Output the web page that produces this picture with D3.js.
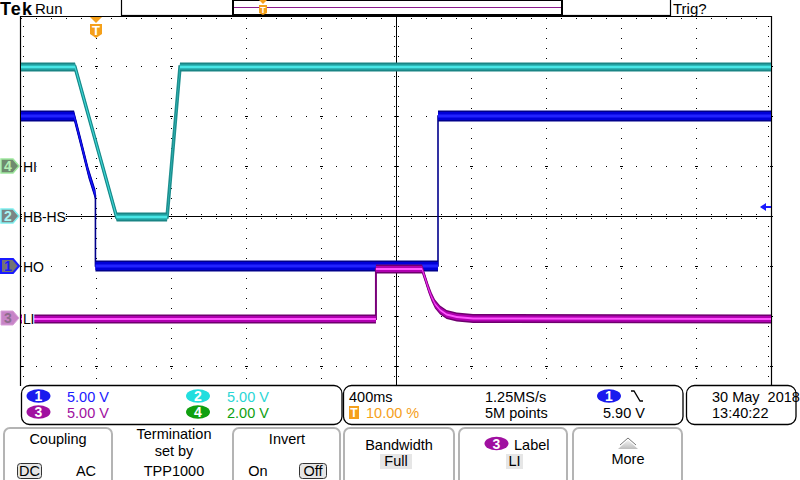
<!DOCTYPE html>
<html><head><meta charset="utf-8">
<script src="https://cdn.jsdelivr.net/npm/d3@7"></script>
<style>
body{margin:0;background:#fff}
svg{display:block}
text{font-family:"Liberation Sans",Arial,sans-serif}
</style>
</head><body>
<svg id="c" width="800" height="480"></svg>
<script>
// ---------------- DATA ----------------
// time axis: 400 ms/div, 10 divisions, trigger at 10 %
const timeDivs = [-0.4, 0.0, 0.4, 0.8, 1.2, 1.6, 2.0, 2.4, 2.8, 3.2, 3.6]; // seconds
const voltDivs = [4, 3, 2, 1, 0, -1, -2, -3, -4]; // vertical divisions

// Channel 2 (HB-HS), volts
const ch2Time = [-0.4, -0.112, 0.110, 0.379, 0.448, 3.6];
const ch2Volt = [14.9, 14.9, -0.1, -0.1, 14.9, 14.9];
// Channel 1 (HO), volts
const ch1Time = [-0.4, -0.117, -0.08, -0.04, -0.003, -0.003, 1.824, 1.824, 3.6];
const ch1Volt = [15.0, 15.0, 12.3, 9.3, 7.1, 0.0, 0.0, 15.0, 15.0];
// Channel 3 (LI), volts
const ch3Time = [-0.4, 1.493, 1.493, 1.739, 1.755, 1.772, 1.790, 1.808, 1.835, 1.870, 1.924, 2.011, 3.6];
const ch3Volt = [-0.1, -0.1, 4.9, 4.9, 4.0, 3.0, 2.1, 1.4, 0.8, 0.35, 0.1, -0.05, -0.1];

// channel setup
const chNames   = ["1", "2", "3", "4"];
const chLabels  = ["HO", "HB-HS", "LI", "HI"];
const chOffset  = [-1, 0, -2.04, 1];          // ground position in divisions
const chVdiv    = [5, 5, 5, 2];               // volts / division
const chScaleTx = ["5.00 V", "5.00 V", "5.00 V", "2.00 V"];

// readouts
const horizTexts = ["400ms", "1.25MS/s", "10.00 %", "5M points"];
const trigLevel = 5.90;
const trigText = "5.90 V";
const dateTexts = ["30 May  2018", "13:40:22"];

// ---------------- SCALES ----------------
const svg = d3.select("#c");
const X0 = 21, X1 = 771, Y0 = 16, Y1 = 416, YCUT = 386;
const x = d3.scaleLinear().domain([timeDivs[0], timeDivs[timeDivs.length-1]]).range([X0, X1]);
const yDiv = d3.scaleLinear().domain([4, -4]).range([Y0, Y1]);
const yCh = (ch, v) => yDiv(chOffset[ch] + v / chVdiv[ch]);

const ORANGE = "#f5a01a";
svg.append("rect").attr("width", 800).attr("height", 480).attr("fill", "#fff");

// ---------------- GRATICULE ----------------
const g = svg.append("g");
const cx = x(timeDivs[5]), cy = yDiv(0);
timeDivs.slice(1, -1).forEach((t, i) => {
  if (i + 1 === 5) return;
  g.append("line").attr("x1", x(t) + 0.5).attr("x2", x(t) + 0.5)
   .attr("y1", Y0 + 2).attr("y2", YCUT)
   .attr("stroke", "#000").attr("stroke-width", 1).attr("stroke-dasharray", "1 9");
});
voltDivs.slice(1, -1).forEach(v => {
  if (v === 0) return;
  const yy = yDiv(v);
  if (yy > YCUT) return;
  g.append("line").attr("x1", X0 + 15).attr("x2", X1).attr("y1", yy + 0.5).attr("y2", yy + 0.5)
   .attr("stroke", "#000").attr("stroke-width", 1).attr("stroke-dasharray", "1 14");
});
timeDivs.forEach(t => voltDivs.forEach(v => {
  const px = x(t), py = yDiv(v);
  if (py > YCUT - 2 || py < Y0 + 2) return;
  g.append("rect").attr("x", px - 1).attr("y", py).attr("width", 3).attr("height", 1).attr("fill", "#000");
}));
g.append("line").attr("x1", X0).attr("x2", X1).attr("y1", cy + 0.5).attr("y2", cy + 0.5).attr("stroke", "#000");
g.append("line").attr("x1", cx + 0.5).attr("x2", cx + 0.5).attr("y1", Y0).attr("y2", YCUT).attr("stroke", "#000");
d3.range(X0, X1, 15).forEach(px => {
  g.append("line").attr("x1", px + 0.5).attr("x2", px + 0.5).attr("y1", cy - 2).attr("y2", cy + 4)
   .attr("stroke", "#000").attr("stroke-dasharray", "1 1");
});
d3.range(Y0, YCUT, 10).forEach(py => {
  g.append("line").attr("x1", cx - 2).attr("x2", cx + 4).attr("y1", py + 0.5).attr("y2", py + 0.5)
   .attr("stroke", "#000").attr("stroke-dasharray", "1 1");
});
d3.range(X0, X1, 15).forEach(px => {
  g.append("rect").attr("x", px).attr("y", Y0 + 2).attr("width", 1).attr("height", 1).attr("fill", "#000");
});
d3.range(Y0 + 10, YCUT, 10).forEach(py => {
  g.append("rect").attr("x", X0 + 2).attr("y", py).attr("width", 1).attr("height", 1).attr("fill", "#000");
  g.append("rect").attr("x", X1 - 3).attr("y", py).attr("width", 1).attr("height", 1).attr("fill", "#000");
});
g.append("path").attr("d", `M${X0 - 0.5},${YCUT} V${Y0 + 0.5} H${X1 + 0.5} V${YCUT}`)
 .attr("fill", "none").attr("stroke", "#000").attr("stroke-width", 1.2);

// ---------------- TRACES ----------------
svg.append("clipPath").attr("id", "plotclip").append("rect")
  .attr("x", X0).attr("y", Y0 + 1).attr("width", X1 - X0).attr("height", YCUT - Y0 - 1);
const tg = svg.append("g").attr("clip-path", "url(#plotclip)");

function drawTrace(T, V, ch, layers, lineW, lineCol) {
  const pts = T.map((t, i) => [x(t), yCh(ch, V[i])]);
  const grp = tg.append("g");
  grp.append("path").datum(pts)
    .attr("d", d3.line().x(d => d[0]).y(d => d[1]))
    .attr("fill", "none").attr("stroke", lineCol).attr("stroke-width", lineW);
  layers.forEach(L => {
    grp.append("path").datum(pts)
      .attr("d", d3.area().x(d => d[0]).y0(d => d[1] - L.h).y1(d => d[1] + L.h))
      .attr("fill", L.c);
  });
}
drawTrace(ch2Time, ch2Volt, 1,
  [{h: 4.5, c: "#1a8585"}, {h: 2.8, c: "#24a8a8"}, {h: 1.3, c: "#48e6e6"}], 3.5, "#1f9090");
drawTrace(ch1Time, ch1Volt, 0,
  [{h: 5.5, c: "#00008c"}, {h: 4, c: "#0000d8"}, {h: 1.5, c: "#2222ff"}], 1.6, "#00008c");
drawTrace(ch3Time, ch3Volt, 2,
  [{h: 4.5, c: "#6e006e"}, {h: 3, c: "#b000b0"}, {h: 1, c: "#ff55ff"}], 2, "#7a007a");

// trigger level arrow (right side)
const ty = yCh(0, trigLevel);
svg.append("path").attr("d", `M760,${ty} L766,${ty - 4} L766,${ty + 4} Z`).attr("fill", "#1a1aff");
svg.append("rect").attr("x", 765).attr("y", ty - 1).attr("width", 6).attr("height", 2).attr("fill", "#1a1aff");

// ---------------- CHANNEL MARKERS & LABELS ----------------
const markerStyle = [
  {fill: "#737373", stroke: "#1a1aff", txt: "#1a1aff", sw: 2},
  {fill: "#7b8585", stroke: "#7ff0f0", txt: "#a8f4f4", sw: 1.5},
  {fill: "#c784c7", stroke: "#d9a0d9", txt: "#8c6c8c", sw: 1},
  {fill: "#6f8a6f", stroke: "#9ee89e", txt: "#b4f0b4", sw: 1.5}
];
const markerY = [0, 1, 2, 3].map(ch => yCh(ch, 0));
markerY[2] = 318;
[3, 1, 0, 2].forEach(ch => {
  const my = markerY[ch], s = markerStyle[ch];
  svg.append("path").attr("d", `M1,${my - 7} H13 L19,${my} L13,${my + 7} H1 Z`)
    .attr("fill", s.fill).attr("stroke", s.stroke).attr("stroke-width", s.sw);
  svg.append("text").attr("x", 8).attr("y", my + 5).attr("text-anchor", "middle")
    .attr("font-size", 14).attr("font-weight", "bold").attr("fill", s.txt).text(chNames[ch]);
  const lt = svg.append("text").attr("x", 23).attr("y", my + 5.5).attr("font-size", 14)
    .attr("letter-spacing", -0.2).attr("fill", "#000").text(chLabels[ch]);
  const bb = lt.node().getBBox();
  svg.insert("rect", "text:last-child").attr("x", 22).attr("y", my - 6).attr("width", bb.width + 1).attr("height", 13).attr("fill", "#fff");
  lt.raise();
});

// trigger position marker
const tx = x(0);
const tm = svg.append("g");
tm.append("path").attr("d", `M${tx - 6},17 H${tx + 6} L${tx},23 Z`).attr("fill", ORANGE);
tm.append("path").attr("d", `M${tx - 6},24 H${tx + 6} V34 L${tx},38 L${tx - 6},34 Z`).attr("fill", ORANGE);
tm.append("text").attr("x", tx).attr("y", 35).attr("text-anchor", "middle").attr("font-size", 13)
  .attr("font-weight", "bold").attr("fill", "#fff").text("T");

// ---------------- TOP BAR ----------------
svg.append("text").attr("x", 0).attr("y", 15).attr("font-family", "Liberation Serif, serif")
  .attr("font-weight", "bold").attr("font-size", 18).attr("textLength", 32).attr("fill", "#000").text("Tek");
svg.append("text").attr("x", 35).attr("y", 14).attr("font-size", 15).attr("fill", "#000").text("Run");
svg.append("text").attr("x", 673).attr("y", 14).attr("font-size", 15).attr("fill", "#000").text("Trig?");
svg.append("rect").attr("x", 121.5).attr("y", -1).attr("width", 549).attr("height", 16.5)
  .attr("fill", "#fff").attr("stroke", "#000").attr("stroke-width", 1.2);
svg.append("rect").attr("x", 233).attr("y", 0).attr("width", 329).attr("height", 15)
  .attr("fill", "none").attr("stroke", "#000").attr("stroke-width", 2);
svg.append("line").attr("x1", 234).attr("x2", 561).attr("y1", 7.5).attr("y2", 7.5)
  .attr("stroke", "#8b1a8b").attr("stroke-width", 1);
const tsx = 263;
svg.append("path").attr("d", `M${tsx - 4},0 H${tsx + 4} L${tsx},4 Z`).attr("fill", ORANGE);
svg.append("path").attr("d", `M${tsx - 4},5 H${tsx + 4} V13 L${tsx},15 L${tsx - 4},13 Z`).attr("fill", ORANGE);
svg.append("text").attr("x", tsx).attr("y", 13).attr("text-anchor", "middle").attr("font-size", 9)
  .attr("font-weight", "bold").attr("fill", "#fff").text("T");

// ---------------- READOUT PANEL ----------------
svg.append("rect").attr("x", 0).attr("y", YCUT).attr("width", 800).attr("height", 480 - YCUT).attr("fill", "#fff");
[[21.5, 320.5], [343.5, 339.5], [686.5, 109.5]].forEach(([bx, bw]) => {
  svg.append("rect").attr("x", bx).attr("y", 385.5).attr("width", bw).attr("height", 39)
    .attr("rx", 8).attr("fill", "#fff").attr("stroke", "#000").attr("stroke-width", 1.3);
});
const ovalCol = ["#1a1aee", "#22dede", "#a010a0", "#10a010"];
const txtCol  = ["#1a1aff", "#2ad6d6", "#a010a0", "#10a010"];
const ovalPos = [[38.5, 396], [198, 396], [38.5, 412], [198, 412]];
const scaleTxPos = [[67, 402], [227, 402], [67, 418], [227, 418]];
function oval(cxp, cyp, col, num) {
  svg.append("ellipse").attr("cx", cxp).attr("cy", cyp).attr("rx", 12).attr("ry", 6.8).attr("fill", col);
  svg.append("text").attr("x", cxp).attr("y", cyp + 5).attr("text-anchor", "middle").attr("font-size", 14)
    .attr("font-weight", "bold").attr("fill", "#fff").text(num);
}
[0, 1, 2, 3].forEach(ch => {
  oval(ovalPos[ch][0], ovalPos[ch][1], ovalCol[ch], chNames[ch]);
  svg.append("text").attr("x", scaleTxPos[ch][0]).attr("y", scaleTxPos[ch][1]).attr("font-size", 14.5)
    .attr("fill", txtCol[ch]).text(chScaleTx[ch]);
});
svg.append("text").attr("x", 349).attr("y", 402).attr("font-size", 14.5).attr("fill", "#000").text(horizTexts[0]);
svg.append("text").attr("x", 485).attr("y", 402).attr("font-size", 14.5).attr("fill", "#000").text(horizTexts[1]);
svg.append("rect").attr("x", 349).attr("y", 406).attr("width", 10).attr("height", 13).attr("fill", ORANGE);
svg.append("text").attr("x", 354).attr("y", 417).attr("text-anchor", "middle").attr("font-size", 12)
  .attr("font-weight", "bold").attr("fill", "#fff").text("T");
svg.append("text").attr("x", 366).attr("y", 418).attr("font-size", 14.5).attr("fill", ORANGE).text(horizTexts[2]);
svg.append("text").attr("x", 485).attr("y", 418).attr("font-size", 14.5).attr("fill", "#000").text(horizTexts[3]);
oval(609, 396, ovalCol[0], "1");
svg.append("path").attr("d", "M631,391 H634 L640,401 H643").attr("fill", "none").attr("stroke", "#000").attr("stroke-width", 1.3);
svg.append("text").attr("x", 603).attr("y", 418).attr("font-size", 14.5).attr("fill", "#000").text(trigText);
svg.append("text").attr("x", 712).attr("y", 402).attr("font-size", 14.5).attr("fill", "#000").attr("xml:space", "preserve").text(dateTexts[0]);
svg.append("text").attr("x", 712).attr("y", 418).attr("font-size", 14.5).attr("fill", "#000").text(dateTexts[1]);

// ---------------- MENU BUTTONS ----------------
[[3, 110], [232, 109], [343, 112], [458, 110], [572, 111]].forEach(([bx, bw]) => {
  svg.append("rect").attr("x", bx + 1).attr("y", 428).attr("width", bw - 2).attr("height", 60)
    .attr("rx", 6).attr("fill", "#fff").attr("stroke", "#b4b4b4").attr("stroke-width", 2);
});
function t(xp, yp, s, anchor = "middle", size = 14.5) {
  return svg.append("text").attr("x", xp).attr("y", yp).attr("text-anchor", anchor).attr("font-size", size).attr("fill", "#000").text(s);
}
function box(bx, by, bw, bh, stroke) {
  svg.append("rect").attr("x", bx).attr("y", by).attr("width", bw).attr("height", bh).attr("rx", stroke ? 3 : 0)
    .attr("fill", "#e6e6e6").attr("stroke", stroke ? "#333" : "none").attr("stroke-width", 1);
}
t(58, 444, "Coupling");
box(17.5, 463.5, 24, 15, true); t(29.5, 476, "DC");
t(86, 476, "AC");
t(174, 439, "Termination"); t(174, 456, "set by"); t(174, 476, "TPP1000");
t(287, 444, "Invert");
t(258, 476, "On");
box(299.5, 463.5, 27, 15, true); t(313, 476, "Off");
t(399, 450, "Bandwidth");
box(380, 454, 32, 15, false); t(396, 466, "Full");
oval(496.5, 443.5, ovalCol[2], "3");
t(514, 450, "Label", "start");
box(506, 454, 17, 15, false); t(514.5, 466, "LI");
const grd = svg.append("defs").append("linearGradient").attr("id", "mg").attr("x1", 0).attr("x2", 0).attr("y1", 0).attr("y2", 1);
grd.append("stop").attr("offset", "0").attr("stop-color", "#f4f4f4");
grd.append("stop").attr("offset", "1").attr("stop-color", "#bdbdbd");
svg.append("path").attr("d", "M618,449 L628,440 L638,449 Z").attr("fill", "url(#mg)");
svg.append("path").attr("d", "M620,445 L628,438 L636,445").attr("fill", "none").attr("stroke", "#777").attr("stroke-width", 1);
t(628, 464, "More");
</script>
</body></html>
